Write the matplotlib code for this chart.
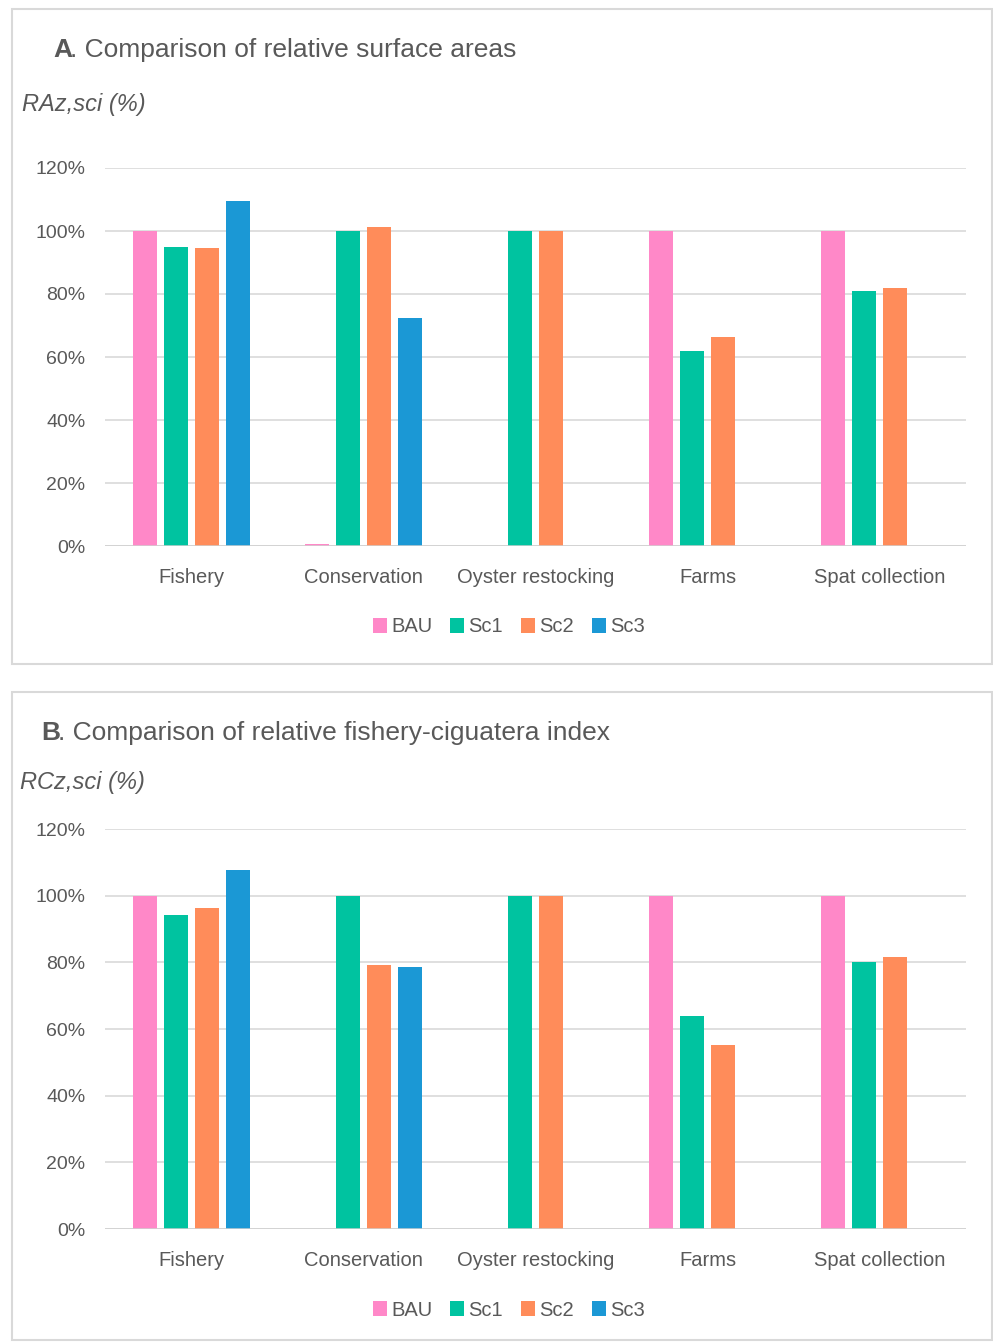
import numpy as np
import matplotlib.pyplot as plt
from matplotlib.patches import Rectangle
from matplotlib.font_manager import fontManager

categories = ["Fishery", "Conservation", "Oyster restocking", "Farms", "Spat collection"]
series = ["BAU", "Sc1", "Sc2", "Sc3"]
colors = ["#FF88C8", "#00C3A0", "#FF8C5A", "#1B98D5"]

# panel A: relative surface areas (%)
ra_bau = [100, 0.5, 0, 100, 100]
ra_sc1 = [95, 100, 100, 62, 80.8]
ra_sc2 = [94.5, 101.4, 100, 66.4, 82]
ra_sc3 = [109.6, 72.5, 0, 0, 0]

# panel B: relative fishery-ciguatera index (%)
rc_bau = [100, 0, 0, 100, 100]
rc_sc1 = [94.3, 100, 100, 64, 80.2]
rc_sc2 = [96.2, 79.2, 100, 55.3, 81.5]
rc_sc3 = [107.8, 78.5, 0, 0, 0]

yticks = [0, 20, 40, 60, 80, 100, 120]

names = {f.name for f in fontManager.ttflist}
fam = "Liberation Sans Narrow" if "Liberation Sans Narrow" in names else "Liberation Sans"
plt.rcParams['font.family'] = [fam, 'DejaVu Sans']
txt = "#595959"

W, H = 993, 1342
fig = plt.figure(figsize=(W / 100, H / 100), dpi=100)


def fx(px):
    return px / W


def fy(py):
    return 1 - py / H


def panel(top, bottom, ax_top, ax_bot, leg_y, data):
    fig.patches.append(Rectangle((fx(12), fy(bottom)), fx(980), (bottom - top) / H,
                                 transform=fig.transFigure, fill=False,
                                 edgecolor="#D9D9D9", linewidth=1.5))
    ax = fig.add_axes([fx(105), fy(ax_bot), fx(861), (ax_bot - ax_top) / H])
    x = np.arange(len(categories))
    bw = 0.14
    step = 0.18
    for i, (s, vals) in enumerate(zip(series, data)):
        ax.bar(x + (i - 1.5) * step, vals, bw, color=colors[i], label=s, zorder=3)
    ax.set_xlim(-0.5, len(categories) - 0.5)
    ax.set_ylim(0, 120)
    ax.set_yticks(yticks)
    ax.set_yticklabels([f"{t}%" for t in yticks], fontsize=14, color=txt)
    ax.set_xticks(x)
    ax.set_xticklabels(categories, fontsize=14.5, color=txt)
    ax.tick_params(length=0, pad=14)
    ax.tick_params(axis='x', pad=16)
    ax.grid(axis='y', color="#D9D9D9", linewidth=1.2, zorder=0)
    for sp in ax.spines.values():
        sp.set_visible(False)
    ax.axhline(0, color="#D0D0D0", linewidth=1.8, zorder=4)
    ax.legend(loc="center", bbox_to_anchor=(fx(509), fy(leg_y)), bbox_transform=fig.transFigure,
              ncol=4, frameon=False, fontsize=14.5, handlelength=0.7, handleheight=0.7,
              handletextpad=0.2, columnspacing=0.9, labelcolor=txt)
    return ax


panel(9, 664, 168, 546, 627, [ra_bau, ra_sc1, ra_sc2, ra_sc3])
fig.text(fx(53), fy(50), "A", fontsize=19, fontweight="bold", color=txt, va="center")
fig.text(fx(70), fy(50), ". Comparison of relative surface areas", fontsize=19, color=txt, va="center")
fig.text(fx(22), fy(105), "RAz,sci (%)", fontsize=17, style="italic", color=txt, va="center")

panel(692, 1340, 829, 1229, 1310, [rc_bau, rc_sc1, rc_sc2, rc_sc3])
fig.text(fx(41), fy(733), "B", fontsize=19, fontweight="bold", color=txt, va="center")
fig.text(fx(58), fy(733), ". Comparison of relative fishery-ciguatera index", fontsize=19, color=txt, va="center")
fig.text(fx(20), fy(783), "RCz,sci (%)", fontsize=17, style="italic", color=txt, va="center")

fig.savefig("out.png", dpi=100)
